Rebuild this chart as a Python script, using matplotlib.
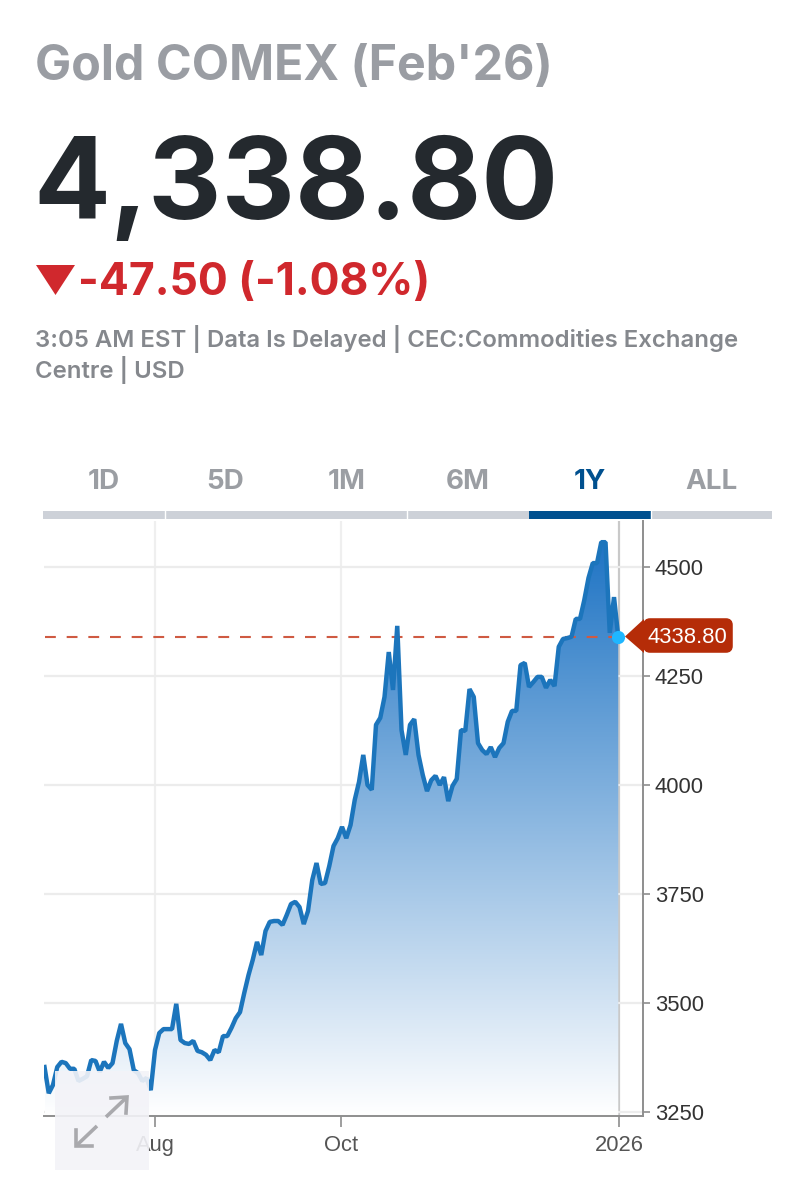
'''
Gold COMEX one year quote card, header text plus area chart.
'''

import numpy as np
import matplotlib.pyplot as plt
from matplotlib.colors import LinearSegmentedColormap
from matplotlib.patches import FancyBboxPatch, Polygon, Rectangle

plt.rcParams['font.family'] = ['Inter', 'DejaVu Sans']

title = "Gold COMEX (Feb'26)"
last_price = 4338.80
price_label = '4,338.80'
change_label = '-47.50 (-1.08%)'
status_lines = ['3:05 AM EST | Data Is Delayed | CEC:Commodities Exchange', 'Centre | USD']
tabs = ['1D', '5D', '1M', '6M', '1Y', 'ALL']
active_tab = '1Y'

# closing prices, one per session
prices = [
	3352, 3292, 3311, 3352, 3364, 3361, 3348, 3348, 3320, 3325,
	3331, 3368, 3366, 3341, 3364, 3350, 3361, 3412, 3451, 3407,
	3393, 3345, 3338, 3320, 3327, 3299, 3391, 3430, 3439, 3439,
	3439, 3497, 3414, 3407, 3405, 3412, 3389, 3386, 3380, 3368,
	3391, 3386, 3423, 3423, 3442, 3464, 3478, 3522, 3563, 3598,
	3639, 3609, 3664, 3685, 3687, 3687, 3678, 3701, 3726, 3731,
	3719, 3680, 3710, 3781, 3820, 3772, 3774, 3813, 3859, 3877,
	3903, 3877, 3907, 3965, 4006, 4068, 3999, 3988, 4137, 4153,
	4201, 4304, 4217, 4364, 4125, 4068, 4137, 4150, 4068, 4022,
	3985, 4010, 4020, 3999, 4017, 3962, 3997, 4013, 4125,
	4123, 4219, 4201, 4095, 4079, 4070, 4086, 4063, 4084, 4095,
	4144, 4169, 4169, 4274, 4279, 4224, 4235, 4247, 4247, 4222,
	4240, 4226, 4316, 4334, 4336, 4339, 4380, 4380, 4423, 4474,
	4508, 4508, 4556, 4556, 4348, 4430, 4338.8,
]
y_ticks = [3250, 3500, 3750, 4000, 4250, 4500]
x_tick_sessions = [26, 69.8, 135.2]
x_tick_labels = ['Aug', 'Oct', '2026']

W, H = 787, 1200
fig = plt.figure(figsize=(W / 100, H / 100), dpi=100, facecolor='white')

# overlay in pixel coordinates for the header and the tag
over = fig.add_axes([0, 0, 1, 1], zorder=5)
over.set_xlim(0, W)
over.set_ylim(H, 0)
over.axis('off')
over.patch.set_alpha(0)

over.text(35, 67, title, fontsize=34.8, fontweight='bold', color='#9a9da3', va='center', ha='left')
over.text(33, 189, price_label, fontsize=82, fontweight='bold', color='#24292e', va='center', ha='left')
over.add_patch(Polygon([(36, 265), (75, 265), (55.5, 295)], closed=True, fc='#d0282d', ec='none'))
over.text(78, 283, change_label, fontsize=32, fontweight='bold', color='#d0282d', va='center', ha='left')
for line, y in zip(status_lines, [339, 370]):
	over.text(35, y, line, fontsize=17.25, fontweight='semibold', color='#85888d', va='center', ha='left')

# range tabs
tab_edges = [43, 165, 286, 407, 529, 651, 772]
for i, tab in enumerate(tabs):
	active = tab == active_tab
	color = '#00508f' if active else '#9b9ea3'
	over.text((tab_edges[i] + tab_edges[i + 1]) / 2, 482, tab, fontsize=20, fontweight='bold', color=color, va='center', ha='center')
over.add_patch(Rectangle((43, 511), 729, 8, fc='#cdd1d8', ec='none'))
for x in [165, 407, 651]:
	over.plot([x, x], [511, 519], color='white', lw=1)
over.add_patch(Rectangle((529, 511), 122, 8, fc='#00508f', ec='none'))

# chart
left, right, top, bottom = 44, 643, 521, 1116
ax = fig.add_axes([left / W, 1 - bottom / H, (right - left) / W, (bottom - top) / H], zorder=1)
px_per_session = 4.25
sessions = np.arange(len(prices))
ax.set_xlim(-0.12, (right - left) / px_per_session - 0.12)
ax.set_ylim(3239.7, 4604.6)

ax.grid(axis='y', color='#ececec', lw=1.6)
for s, label in zip(x_tick_sessions, x_tick_labels):
	color = '#c9c9c9' if label == '2026' else '#efefef'
	ax.axvline(s, color=color, lw=1.6, zorder=0.5)
ax.set_axisbelow(True)

area = ax.fill_between(sessions, prices, ax.get_ylim()[0], facecolor='none', edgecolor='none')
cmap = LinearSegmentedColormap.from_list('area', ['#1f74c4', '#ffffff'])
gradient = np.linspace(0, 1, 256).reshape(-1, 1)
im = ax.imshow(gradient, cmap=cmap, aspect='auto', zorder=1.5,
	extent=[sessions[0], sessions[-1], ax.get_ylim()[0], max(prices)], origin='upper')
im.set_clip_path(area.get_paths()[0], transform=ax.transData)
ax.set_xlim(-0.12, (right - left) / px_per_session - 0.12)
ax.set_ylim(3239.7, 4604.6)

ax.plot([sessions[0], sessions[-1]], [last_price, last_price], color='#cf5a42', lw=1.5, dashes=(5.2, 5.2), zorder=1.8)
ax.plot(sessions, prices, color='#1c75bc', lw=3.2, solid_joinstyle='bevel', zorder=2)
ax.plot(sessions[-1], last_price, 'o', color='#1fb6ff', ms=9.5, mec='none', zorder=3, clip_on=False)

for side in ['top', 'left']:
	ax.spines[side].set_visible(False)
for side in ['right', 'bottom']:
	ax.spines[side].set_color('#8e8e8e')
	ax.spines[side].set_linewidth(1.4)
ax.yaxis.tick_right()
ax.set_yticks(y_ticks)
ax.set_xticks(x_tick_sessions, x_tick_labels)
ax.tick_params(axis='y', length=5, width=1.2, color='#8e8e8e', pad=3.5, labelcolor='#333333')
ax.tick_params(axis='x', length=8, width=1.2, color='#8e8e8e', pad=5.5, labelcolor='#555555')
for label in ax.get_xticklabels() + ax.get_yticklabels():
	label.set_family(['Liberation Sans', 'DejaVu Sans'])
	label.set_fontsize(15.8)

# price tag
over.add_patch(FancyBboxPatch((646, 621), 84, 29, boxstyle='round,pad=0,rounding_size=4', fc='#b52c08', ec='#b52c08', lw=4))
over.add_patch(Polygon([(625, 636.5), (644, 619), (644, 653)], closed=True, fc='#b52c08', ec='none'))
over.text(687, 637.5, '4338.80', fontsize=15.8, color='white', va='center', ha='center', family=['Liberation Sans', 'DejaVu Sans'])

# expand button laid over the lower left corner
over.add_patch(Rectangle((55, 1071), 94, 99, fc='#f3f3f8', ec='none', alpha=0.9))
arrow_color = '#a9a9ad'
over.plot([106, 126], [1117, 1098], color=arrow_color, lw=2.6, solid_capstyle='butt')
over.plot([111, 127, 126], [1098, 1097, 1113], color=arrow_color, lw=2.6, solid_joinstyle='miter')
over.plot([97, 77], [1126, 1145], color=arrow_color, lw=2.6, solid_capstyle='butt')
over.plot([76, 76, 92], [1130, 1146, 1146], color=arrow_color, lw=2.6, solid_joinstyle='miter')

fig.savefig('out.png', dpi=100)
